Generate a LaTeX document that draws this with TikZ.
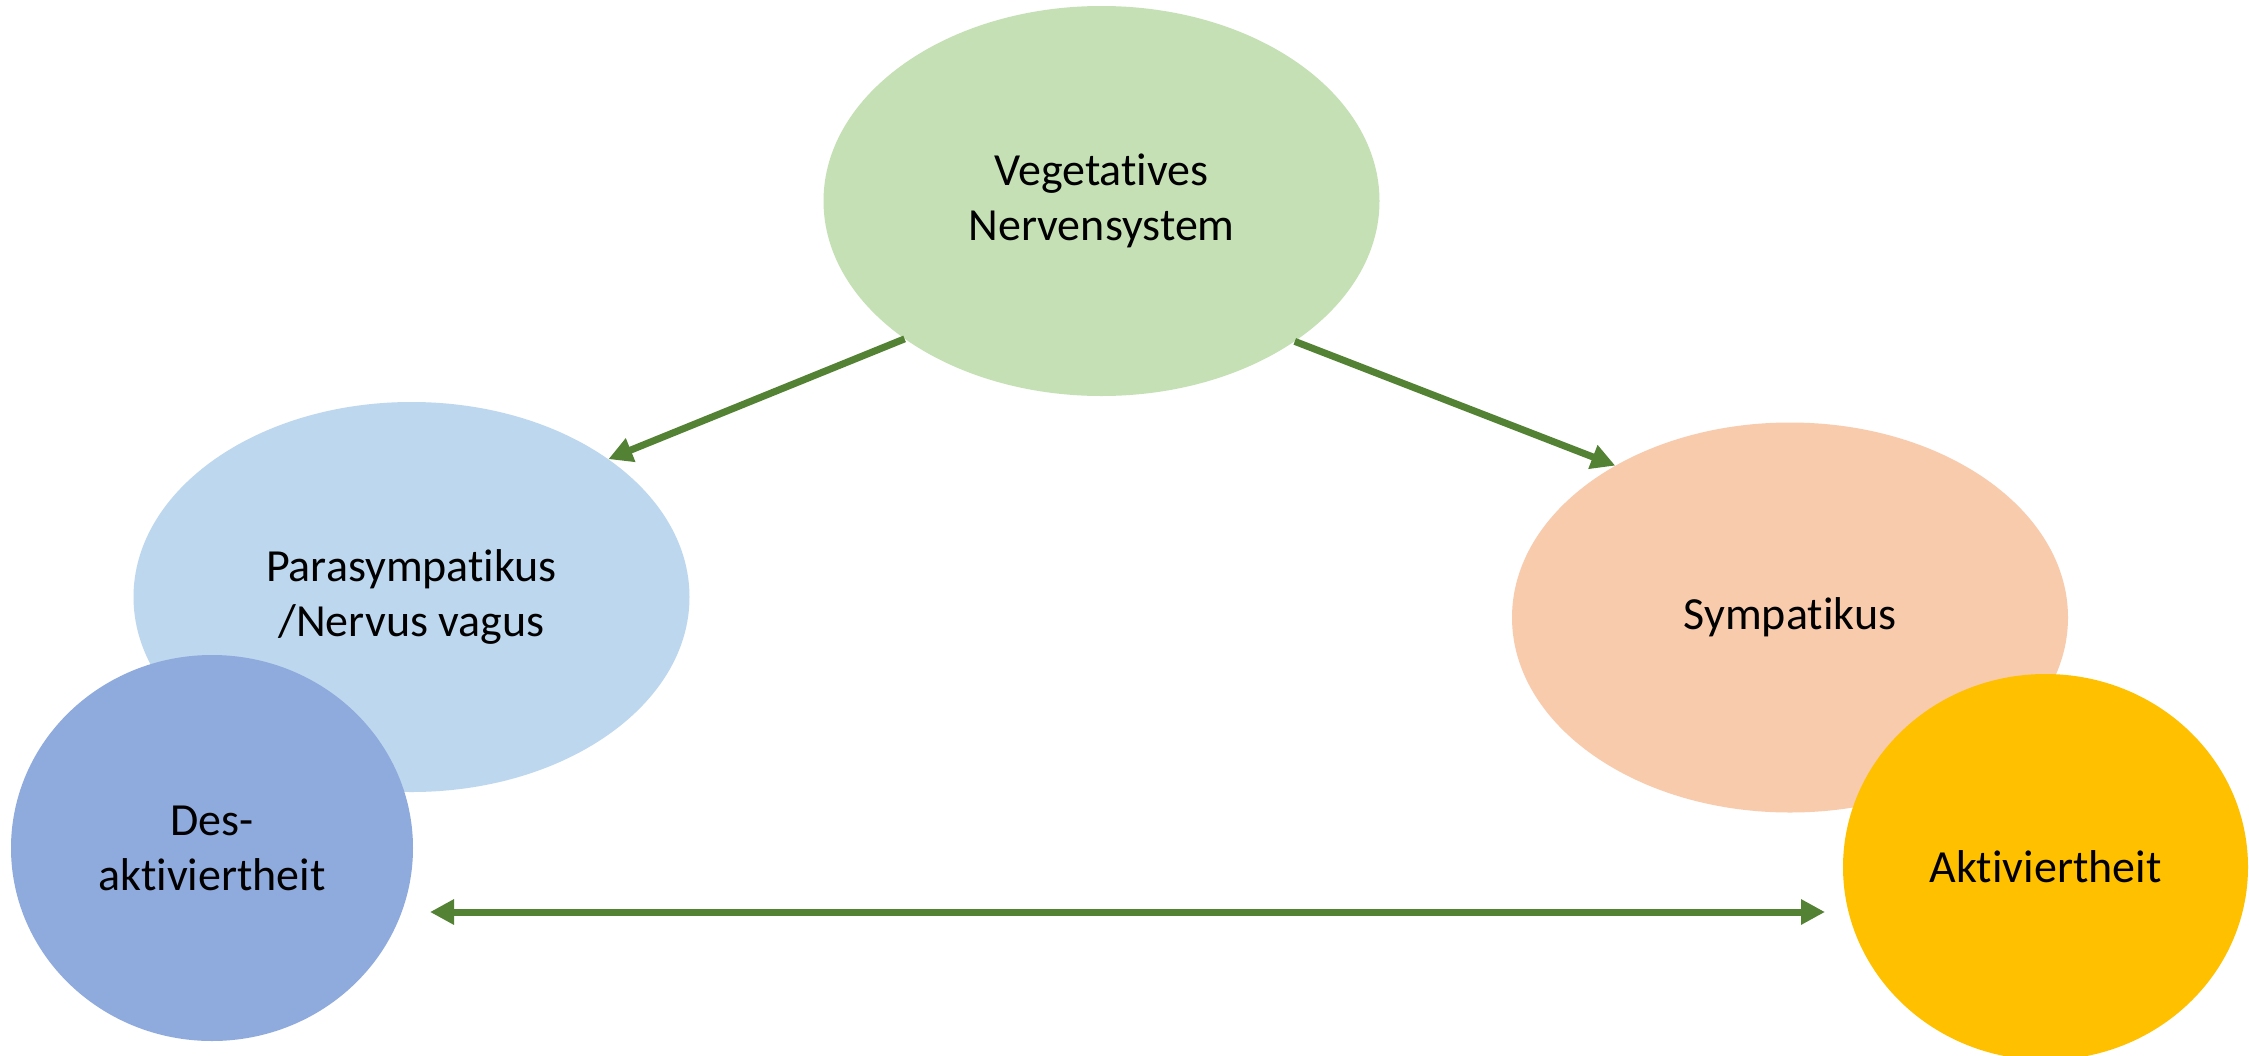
\documentclass[tikz,border=0pt]{standalone}
\usepackage{fontspec}
\setmainfont{Carlito}[Ligatures=NoCommon]
\usetikzlibrary{shapes.geometric,arrows.meta}
\definecolor{vegC}{HTML}{C5E0B4}
\definecolor{paraC}{HTML}{BDD7EE}
\definecolor{sympC}{HTML}{F8CBAD}
\definecolor{desC}{HTML}{8FAADC}
\definecolor{aktC}{HTML}{FFC000}
\definecolor{arrC}{HTML}{548235}
\tikzset{
  bigell/.style={ellipse, inner sep=0pt, minimum width=556pt, minimum height=390pt,
    align=center, font=\fontsize{46}{55}\selectfont},
  roundc/.style={ellipse, inner sep=0pt, minimum width=402pt, minimum height=386pt,
    align=center, font=\fontsize{46}{55}\selectfont},
  conn/.style={draw=arrC, line width=7pt, -{Triangle[length=24pt,width=24pt]}},
  bconn/.style={draw=arrC, line width=7pt, {Triangle[length=24pt,width=24pt]}-{Triangle[length=24pt,width=24pt]}}
}
\begin{document}
\begin{tikzpicture}[x=1pt,y=-1pt]
\clip (0,0) rectangle (2249,1055);
\useasboundingbox[fill=white] (0,0) rectangle (2249,1055);
\node[bigell, fill=vegC] (veg) at (1101.5,201) {Vegetatives\\Nervensystem};
\node[bigell, fill=paraC] (para) at (411.5,597) {Parasympatikus\\/Nervus vagus};
\node[bigell, fill=sympC] (symp) at (1790,617.5) {Sympatikus};
\draw[conn] (veg.215.3) -- (para.35);
\draw[conn] (veg.324.7) -- (symp.139.8);
\node[roundc, fill=desC] (des) at (212,848) {Des-\\aktiviertheit};
\node[roundc, fill=aktC, minimum width=405pt] (akt) at (2045.5,867) {Aktiviertheit};
\coordinate (la) at (430,912);
\coordinate (ra) at (1825,912);
\draw[bconn] (la) -- (ra);
\end{tikzpicture}
\end{document}
